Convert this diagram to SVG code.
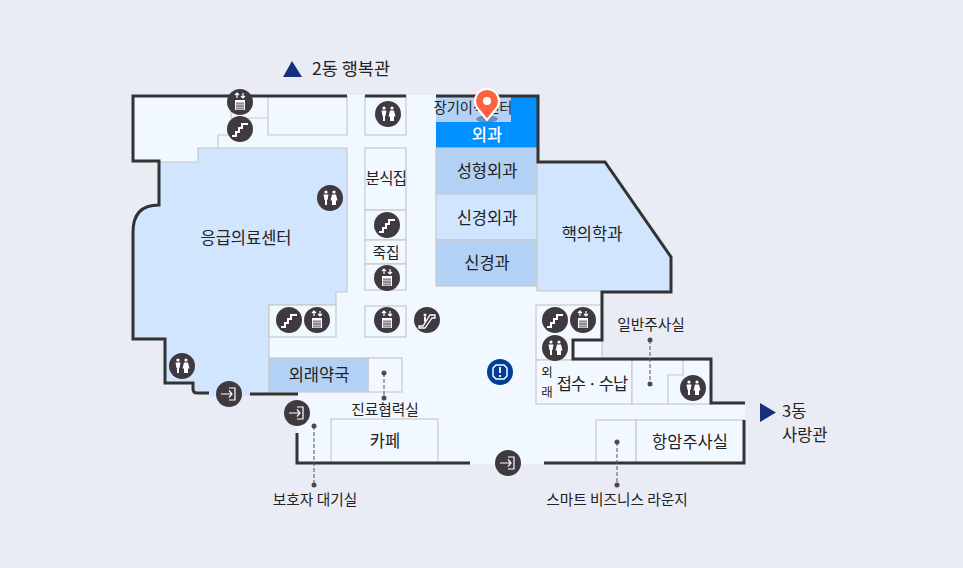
<svg xmlns="http://www.w3.org/2000/svg" width="963" height="568" viewBox="0 0 963 568">
<style>
text{font-family:"Noto Sans CJK KR","Noto Sans",sans-serif;font-size:16.500px;fill:#222;text-anchor:middle}
.sm{font-size:14.700px}
.room{stroke:#c8c8c8;stroke-width:1.200}
.thin{fill:none;stroke:#c8c8c8;stroke-width:1.200}
.wall{fill:none;stroke:#333;stroke-width:3}
.bg{fill:#3f3a40}
.ic{fill:none;stroke:#fff;stroke-width:2}
.lead{fill:none;stroke:#5a5258;stroke-width:1;stroke-dasharray:4 2}
.dot{fill:#4f484e}
</style>
<defs>
<g id="i-stair"><circle r="13" class="bg"/><path class="ic" d="M-8 7H-4V3H-1V-1H2V-5H8"/></g>
<g id="i-lift"><circle r="13" class="bg"/><rect x="-5" y="-2" width="10" height="10" fill="#fff"/><path d="M-3 1V7M-1 1V7M1 1V7M3 1V7M-4 1H4M-4 4H4M-4 7H4" stroke="#3f3a40" stroke-width=".7"/><path d="M-3 -4V-9M-5 -7L-3 -9L-1 -7M3 -9V-4M1 -6L3 -4L5 -6" fill="none" stroke="#fff" stroke-width="1.200"/></g>
<g id="i-wc"><circle r="13" class="bg"/><g fill="#fff"><circle cx="-4" cy="-6" r="1.600"/><circle cx="4" cy="-6" r="1.600"/><path d="M-6.500 -3.500H-1.500L-2.500 2H-3V7H-5V2H-5.500Z"/><path d="M2 -3.500H6L7.500 2.500H6V7H2V2.500H.5Z"/></g></g>
<g id="i-exit"><circle r="13" class="bg"/><path class="ic" style="stroke-width:1.200px" d="M-8 0H3M0 -3.500L3 0L0 3.500M0 -6H6V6H0"/></g>
<g id="i-esc"><circle r="13" class="bg"/><path class="ic" style="stroke-width:1.300px" d="M-8 6H-4L3 -5H8V-2H5L-2 8H-8Z"/><circle cx="-2" cy="-5" r="1.500" fill="#fff"/><path d="M-2 -3V2" stroke="#fff" stroke-width="2"/></g>
</defs>
<rect width="963" height="568" fill="#e9ecf4"/>

<g id="floor">
<path fill="#f2f8ff" d="M133 95H538V162H605L671 257V292H602V340H573V359H711V403H745V464H544V464H297V433H297V394H193V384H165V339H133V226Q133 205 159 205V162H133Z"/>
<path fill="#d1e5fe" d="M159 162H198V148H347V292H336V305H269V394H250V396H210V393H193V384H165V339H133V226Q133 205 159 205Z"/>
<path class="thin" d="M159 162H198V148H347V292H336V305H269V394M231 96V118H268M218 148V135H232M268 96V135H347V96"/>
</g>

<g id="rooms-center">
<rect class="room" x="365" y="96" width="41" height="39" fill="#f2f8ff"/>
<rect class="room" x="365" y="148" width="41" height="62" fill="#f2f8ff"/>
<rect class="room" x="365" y="210" width="41" height="30" fill="#f2f8ff"/>
<rect class="room" x="365" y="240" width="41" height="24" fill="#f2f8ff"/>
<rect class="room" x="365" y="264" width="41" height="26" fill="#f2f8ff"/>
<rect class="room" x="365" y="306" width="41" height="31" fill="#f2f8ff"/>
<rect class="room" x="269" y="305" width="67" height="32" fill="#f2f8ff"/>
<rect class="room" x="368" y="358" width="34" height="34" fill="#f2f8ff"/>
<rect class="room" x="331" y="419" width="107" height="44" fill="#f2f8ff"/>
<rect class="room" x="596" y="420" width="40" height="43" fill="#f2f8ff"/>
<rect class="room" x="636" y="420" width="108" height="43" fill="#f2f8ff"/>
<rect class="room" x="536" y="305" width="66" height="55" fill="#f2f8ff"/>
<rect class="room" x="536" y="360" width="96" height="44" fill="#f2f8ff"/>
<rect class="room" x="632" y="360" width="79" height="44" fill="#f2f8ff"/>
<path class="thin" d="M668 404V375H683V360"/>
</g>

<g id="node-emergency"><text x="246" y="244">응급의료센터</text></g>
<g id="node-transplant"><rect x="436" y="96" width="101" height="52" fill="#0090ff"/><rect x="436" y="97" width="75" height="25" fill="#b3d1f5"/><text x="473" y="113" style="font-size:14.300px">장기이식센터</text></g>
<g id="node-surgery"><text x="487" y="141" style="fill:#fff;font-weight:500">외과</text></g>
<g id="node-plastic"><rect class="room" x="436" y="148" width="101" height="46" fill="#b3d1f5"/><text x="487" y="177">성형외과</text></g>
<g id="node-neurosurgery"><rect class="room" x="436" y="194" width="101" height="46" fill="#d1e5fe"/><text x="487" y="224">신경외과</text></g>
<g id="node-neurology"><rect class="room" x="436" y="240" width="101" height="46" fill="#b3d1f5"/><text x="487" y="269">신경과</text></g>
<g id="node-nuclear"><path d="M537 163H605L670 257V291H537Z" fill="#d1e5fe"/><path class="thin" d="M537 163V291H602"/><text x="592" y="240">핵의학과</text></g>
<g id="node-snack"><text x="386" y="184" style="font-size:15.500px;letter-spacing:-.6px">분식집</text></g>
<g id="node-juk"><text x="386" y="258" class="sm">죽집</text></g>
<g id="node-pharmacy"><rect class="room" x="269" y="358" width="99" height="34" fill="#b3d1f5"/><text x="319" y="381">외래약국</text></g>
<g id="node-cafe"><text x="385" y="447">카페</text></g>
<g id="node-cancer"><text x="690" y="448">항암주사실</text></g>
<g id="node-reception"><text x="547" y="377" style="font-size:12.500px">외</text><text x="547" y="397" style="font-size:12.500px">래</text><text x="592" y="390" style="letter-spacing:-1px">접수 · 수납</text></g>
<g id="node-labels">
<text class="sm" x="651" y="330">일반주사실</text>
<text class="sm" x="385" y="415">진료협력실</text>
<text class="sm" x="315" y="505">보호자 대기실</text>
<text class="sm" x="617" y="505">스마트 비즈니스 라운지</text>
</g>

<g id="walls">
<path class="wall" d="M347 96H133V161H159V205Q133 205 133 232V339H165V383H193V389Q193 393 197 393H209M250 394H298M297 433V463H470M544 463H744V420M745 403H711V359H573V340H602V292H671V257L605 162H538V96H436M365 96H406"/>
</g>

<g id="connectors">
<path class="lead" d="M650 340V384M384 373V398M314 426V485M617 442V485"/>
<g class="dot"><circle cx="650" cy="340" r="2.500"/><circle cx="650" cy="384" r="2.500"/><circle cx="384" cy="373" r="2.500"/><circle cx="384" cy="398" r="2.500"/><circle cx="314" cy="426" r="2.500"/><circle cx="314" cy="485" r="2.500"/><circle cx="617" cy="442" r="2.500"/><circle cx="617" cy="485" r="2.500"/></g>
</g>

<g id="node-icons">
<use href="#i-lift" x="240" y="102"/><use href="#i-stair" x="240" y="129"/>
<use href="#i-wc" x="330" y="198"/><use href="#i-wc" x="388" y="114"/>
<use href="#i-stair" x="387" y="225"/><use href="#i-lift" x="387" y="278"/>
<use href="#i-stair" x="289" y="320"/><use href="#i-lift" x="317" y="320"/>
<use href="#i-lift" x="387" y="320"/><use href="#i-esc" x="427" y="320"/>
<use href="#i-wc" x="182" y="366"/><use href="#i-exit" x="229" y="394"/>
<use href="#i-exit" x="297" y="413"/><use href="#i-exit" x="508" y="463"/>
<use href="#i-stair" x="555" y="320"/><use href="#i-lift" x="583" y="320"/>
<use href="#i-wc" x="555" y="348"/><use href="#i-wc" x="693" y="388"/>
</g>
<g id="node-info"><circle cx="500" cy="372" r="13" fill="#003e97"/><path d="M496 365H504L507 368V376L504 379H496L493 376V368Z" fill="none" stroke="#fff" stroke-width="1.500"/><path d="M500 367V373M500 375V377" stroke="#fff" stroke-width="1.800"/></g>

<g id="node-pin">
<ellipse cx="487" cy="119" rx="11" ry="3.500" fill="#2a5a90" opacity=".55"/>
<path d="M487 120L478 109A12 12 0 1 1 496 109Z" fill="#ff6241" stroke="#fff" stroke-width="2"/>
<circle cx="487" cy="101" r="4" fill="#fff"/>
</g>

<g id="node-building2"><path d="M292 61L302 77H283Z" fill="#14307f"/><text x="351" y="75" style="font-size:17.500px">2동 행복관</text></g>
<g id="node-building3"><path d="M760 403L776 412.500L760 422Z" fill="#14307f"/><text x="782" y="417" style="font-size:16.500px;text-anchor:start">3동</text><text x="782" y="441" style="font-size:16.500px;text-anchor:start">사랑관</text></g>
</svg>
